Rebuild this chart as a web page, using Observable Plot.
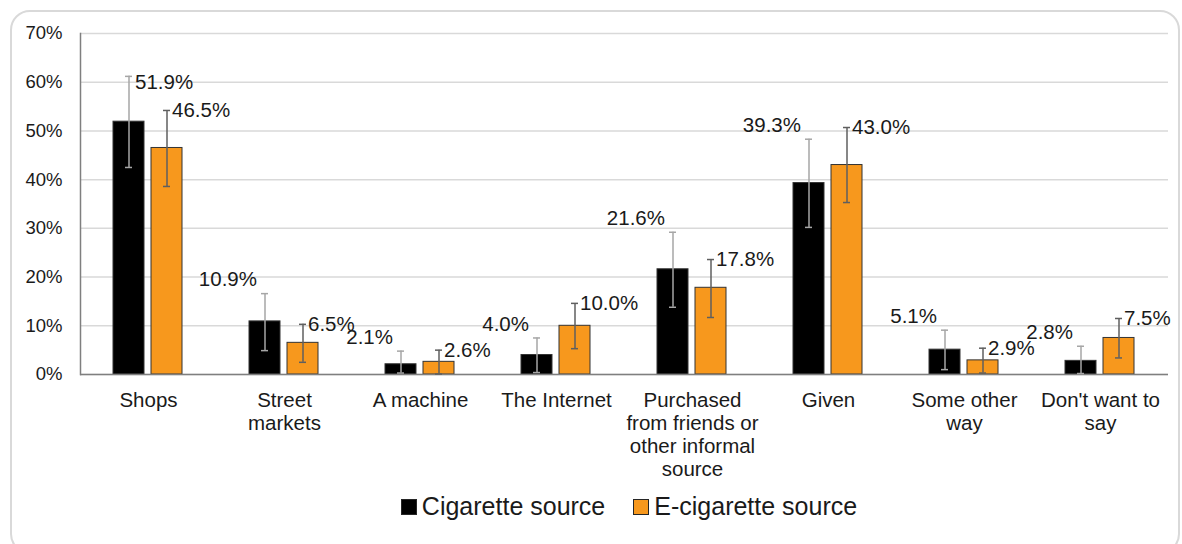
<!DOCTYPE html>
<html>
<head>
<meta charset="utf-8">
<script src="https://cdn.jsdelivr.net/npm/d3@7"></script>
<script src="https://cdn.jsdelivr.net/npm/@observablehq/plot@0.6"></script>
<style>
  body { margin: 0; background: #fff; font-family: "Liberation Sans", Arial, sans-serif; }
  #wrap { position: relative; width: 1182px; height: 544px; overflow: hidden; }
  #border { position: absolute; left: 10px; top: 10px; width: 1166px; height: 540px; border: 2px solid #d9d9d9; border-radius: 20px; }
  #chart { position: absolute; left: 0; top: 0; }
  #legend { position: absolute; left: 78px; width: 1102px; top: 492px; display: flex; justify-content: center; align-items: center; font-size: 25px; color: #1a1a1a; }
  .item { display: flex; align-items: center; margin: 0 14px; }
  .sw { width: 14px; height: 14px; border: 1px solid #262626; margin-right: 5px; }
</style>
</head>
<body>
<div id="wrap">
  <div id="border"></div>
  <div id="chart"></div>
  <div id="legend"></div>
</div>
<script>
const categories = ["Shops", "Street markets", "A machine", "The Internet", "Purchased from friends or other informal source", "Given", "Some other way", "Don't want to say"];
const categoryLabels = ["Shops", "Street\nmarkets", "A machine", "The Internet", "Purchased\nfrom friends or\nother informal\nsource", "Given", "Some other\nway", "Don't want to\nsay"];
const seriesNames = ["Cigarette source", "E-cigarette source"];
const seriesColors = ["#000000", "#F7981D"];
const cigValues = [51.9, 10.9, 2.1, 4.0, 21.6, 39.3, 5.1, 2.8];
const cigLow = [42.5, 4.9, 0.3, 0.4, 13.8, 30.2, 1.0, 0.2];
const cigHigh = [61.2, 16.6, 4.8, 7.5, 29.2, 48.3, 9.1, 5.8];
const ecigValues = [46.5, 6.5, 2.6, 10.0, 17.8, 43.0, 2.9, 7.5];
const ecigLow = [38.6, 2.5, 0.1, 5.3, 11.7, 35.3, 0.3, 3.4];
const ecigHigh = [54.2, 10.3, 5.0, 14.6, 23.6, 50.7, 5.4, 11.5];
const yTicks = [0, 10, 20, 30, 40, 50, 60, 70];

const cigData = categories.map((c, i) => ({category: c, series: seriesNames[0], value: cigValues[i], low: cigLow[i], high: cigHigh[i], idx: i}));
const ecigData = categories.map((c, i) => ({category: c, series: seriesNames[1], value: ecigValues[i], low: ecigLow[i], high: ecigHigh[i], idx: i}));
const allData = cigData.concat(ecigData);
const fmt = d => d.value.toFixed(1) + "%";

const chart = Plot.plot({
  width: 1182,
  height: 492,
  marginLeft: 78,
  marginRight: 12,
  marginTop: 33,
  marginBottom: 118,
  style: {fontFamily: "'Liberation Sans', Arial, sans-serif", color: "#1a1a1a", background: "transparent"},
  fx: {domain: categories, padding: 0},
  x: {domain: seriesNames, paddingInner: 0.18, paddingOuter: 0.84, axis: null},
  y: {domain: [0, 70]},
  color: {domain: seriesNames, range: seriesColors},
  marks: [
    Plot.gridY(yTicks, {stroke: "#d9d9d9", strokeOpacity: 1, strokeWidth: 1.5}),
    Plot.barY(allData, {fx: "category", x: "series", y: "value", fill: "series", stroke: "#333333", strokeWidth: 1}),
    Plot.ruleY([0], {stroke: "#7f7f7f", strokeWidth: 1.5}),
    Plot.frame({anchor: "left", facetAnchor: "left", stroke: "#7f7f7f", strokeWidth: 1.5}),
    Plot.ruleX(cigData, {fx: "category", x: "series", y1: "low", y2: "high", stroke: "#a6a6a6", strokeWidth: 1.5}),
    Plot.tickY(cigData, {fx: "category", x: "series", y: "low", stroke: "#a6a6a6", strokeWidth: 1.5, insetLeft: 12, insetRight: 12}),
    Plot.tickY(cigData, {fx: "category", x: "series", y: "high", stroke: "#a6a6a6", strokeWidth: 1.5, insetLeft: 12, insetRight: 12}),
    Plot.ruleX(ecigData, {fx: "category", x: "series", y1: "low", y2: "high", stroke: "#5f5f5f", strokeWidth: 1.5}),
    Plot.tickY(ecigData, {fx: "category", x: "series", y: "low", stroke: "#5f5f5f", strokeWidth: 1.5, insetLeft: 12, insetRight: 12}),
    Plot.tickY(ecigData, {fx: "category", x: "series", y: "high", stroke: "#5f5f5f", strokeWidth: 1.5, insetLeft: 12, insetRight: 12}),
    Plot.text(cigData.filter(d => d.idx === 0), {fx: "category", x: "series", y: "high", text: fmt, textAnchor: "start", dx: 6, dy: 6, fontSize: 20.5, fill: "#1a1a1a"}),
    Plot.text(cigData.filter(d => d.idx > 0), {fx: "category", x: "series", y: "high", text: fmt, textAnchor: "end", dx: -8, dy: -14, fontSize: 20.5, fill: "#1a1a1a"}),
    Plot.text(ecigData, {fx: "category", x: "series", y: "high", text: fmt, textAnchor: "start", dx: 5, dy: 0, fontSize: 20.5, fill: "#1a1a1a"}),
    Plot.axisY({ticks: yTicks, tickFormat: d => d + "%", tickSize: 0, tickPadding: 18, fontSize: 18.5, label: null, fill: "#1a1a1a"}),
    Plot.axisFx({anchor: "bottom", tickFormat: c => categoryLabels[categories.indexOf(c)], tickSize: 0, tickPadding: 16, fontSize: 20.5, lineHeight: 1.13, label: null, fill: "#1a1a1a"})
  ]
});
document.getElementById("chart").appendChild(chart);

const legend = document.getElementById("legend");
seriesNames.forEach((s, i) => {
  const item = document.createElement("div");
  item.className = "item";
  const sw = document.createElement("div");
  sw.className = "sw";
  sw.style.background = seriesColors[i];
  const t = document.createElement("span");
  t.textContent = s;
  item.appendChild(sw);
  item.appendChild(t);
  legend.appendChild(item);
});
</script>
</body>
</html>
